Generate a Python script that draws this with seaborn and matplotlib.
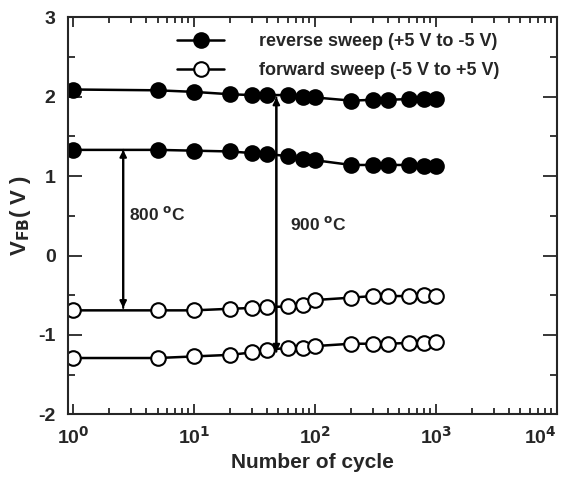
import matplotlib
matplotlib.use("Agg")
import matplotlib.pyplot as plt
import seaborn as sns
import pandas as pd
from matplotlib.ticker import LogLocator, NullFormatter, MultipleLocator

cycles = [1, 5, 10, 20, 30, 40, 60, 80, 100, 200, 300, 400, 600, 800, 1000]
rev_900 = [2.09, 2.08, 2.06, 2.03, 2.02, 2.02, 2.02, 2.00, 1.99, 1.95, 1.96, 1.96, 1.97, 1.97, 1.97]
rev_800 = [1.33, 1.33, 1.32, 1.31, 1.29, 1.28, 1.25, 1.21, 1.20, 1.14, 1.14, 1.14, 1.14, 1.13, 1.13]
fwd_800 = [-0.69, -0.69, -0.69, -0.67, -0.66, -0.65, -0.64, -0.62, -0.56, -0.53, -0.51, -0.51, -0.51, -0.50, -0.51]
fwd_900 = [-1.29, -1.29, -1.27, -1.25, -1.22, -1.19, -1.16, -1.16, -1.14, -1.11, -1.11, -1.11, -1.10, -1.10, -1.09]

legend_labels = ["reverse sweep (+5 V to -5 V)", "forward sweep (-5 V to +5 V)"]
x_ticks = [1, 10, 100, 1000, 10000]
x_ticklabels = ['10$^{0}$', '10$^{1}$', '10$^{2}$', '10$^{3}$', '10$^{4}$']
arrow_800 = (2.6, 1.33, -0.66)
arrow_900 = (48, 1.99, -1.21)

sns.set_style("ticks")
plt.rcParams['font.family'] = ['Liberation Sans', 'DejaVu Sans']
plt.rcParams['font.weight'] = 'bold'
plt.rcParams['axes.unicode_minus'] = False
plt.rcParams['mathtext.default'] = 'bf'

fig = plt.figure(figsize=(5.67, 4.78), dpi=100)
ax = fig.add_axes([0.12, 0.133, 0.862, 0.831])

series = [
    (rev_900, 'black', legend_labels[0]),
    (rev_800, 'black', None),
    (fwd_800, 'white', legend_labels[1]),
    (fwd_900, 'white', None),
]
for vals, fc, lab in series:
    df = pd.DataFrame({'x': cycles, 'y': vals})
    sns.lineplot(data=df, x='x', y='y', ax=ax, color='black', lw=1.8,
                 marker='o', markersize=10.5, markerfacecolor=fc,
                 markeredgecolor='black', markeredgewidth=1.5,
                 label=lab, legend=False)

ax.set_xscale('log')
ax.set_xlim(0.91, 1e4)
ax.set_ylim(-2, 3)

ax.set_xticks(x_ticks)
ax.set_xticklabels(x_ticklabels)
ax.xaxis.set_minor_locator(LogLocator(base=10, subs=range(2, 10), numticks=20))
ax.xaxis.set_minor_formatter(NullFormatter())
ax.yaxis.set_major_locator(MultipleLocator(1))
ax.yaxis.set_minor_locator(MultipleLocator(0.5))

ax.tick_params(which='both', direction='in', top=True, right=True, width=1.3, labelsize=14)
ax.tick_params(axis='y', which='major', length=10, pad=9)
ax.tick_params(axis='y', which='minor', length=5)
ax.tick_params(axis='x', which='major', length=7, pad=8)
ax.tick_params(axis='x', which='minor', length=4)
for lbl in ax.get_xticklabels() + ax.get_yticklabels():
    lbl.set_fontweight('bold')
ax.get_xticklabels()[-1].set_horizontalalignment('right')
for s in ax.spines.values():
    s.set_linewidth(1.5)

ax.set_xlabel('Number of cycle', fontsize=15, fontweight='bold', labelpad=4)
ax.set_ylabel('V$_{FB}$( V )', fontsize=16, fontweight='bold', labelpad=4)

for xa, y1, y2 in [arrow_800, arrow_900]:
    ax.annotate('', xy=(xa, y2), xytext=(xa, y1),
                arrowprops=dict(arrowstyle='-|>', color='black', lw=1.5,
                                mutation_scale=10, shrinkA=0, shrinkB=0))
    ax.annotate('', xy=(xa, y1), xytext=(xa, y2),
                arrowprops=dict(arrowstyle='-|>', color='black', lw=1.5,
                                mutation_scale=10, shrinkA=0, shrinkB=0))
ax.text(2.9, 0.52, '800 $^{o}$C', fontsize=12.5, fontweight='bold', va='center')
ax.text(62, 0.40, '900 $^{o}$C', fontsize=12.5, fontweight='bold', va='center')

leg = ax.legend(loc='upper right', bbox_to_anchor=(0.915, 1.0), frameon=False,
                prop={'weight': 'bold', 'size': 13}, handlelength=2.6,
                labelspacing=0.65, handletextpad=1.9)

fig.savefig('out.png', dpi=100)
